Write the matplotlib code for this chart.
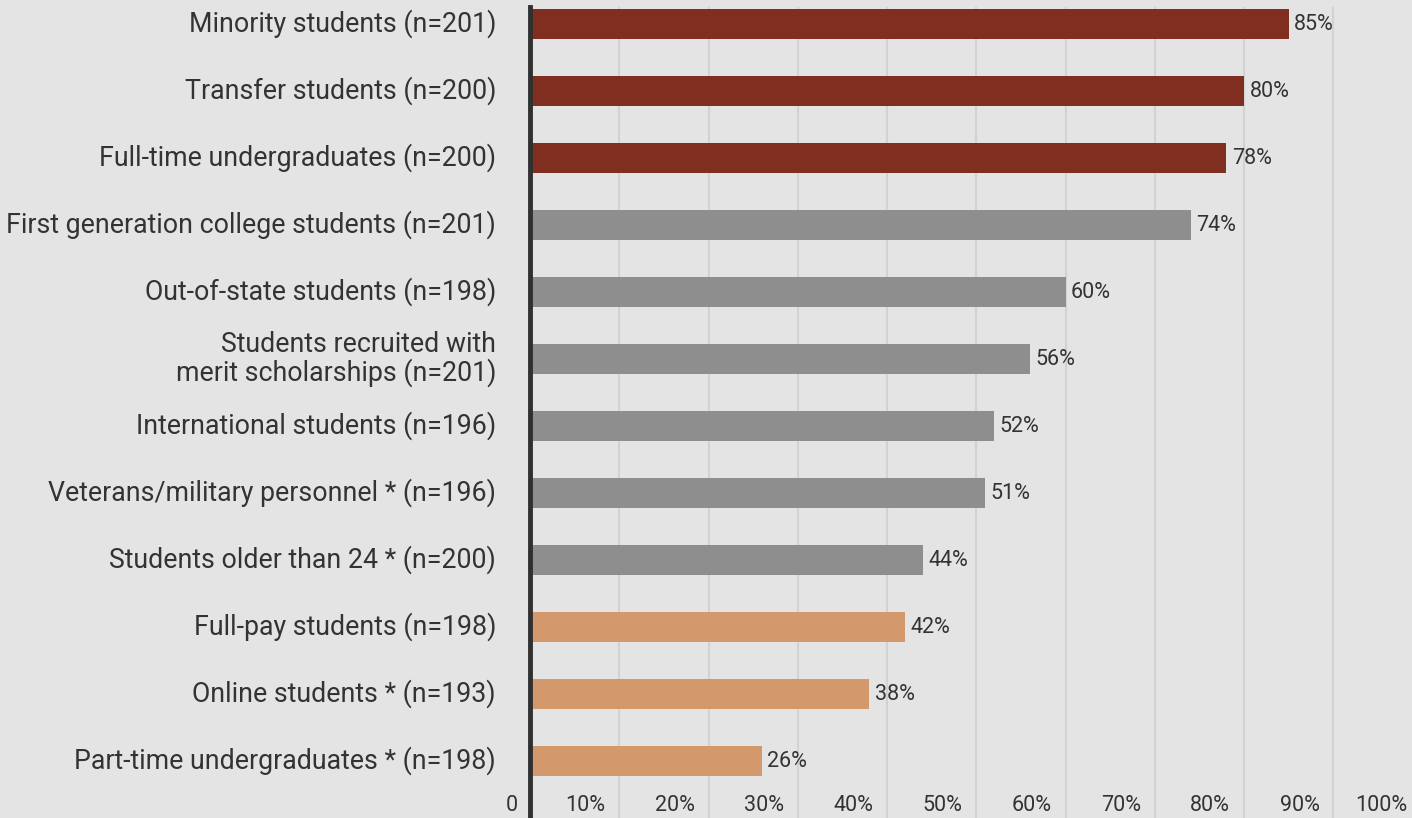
import matplotlib
matplotlib.use("Agg")
import matplotlib.pyplot as plt

# data
categories = [
    "Minority students (n=201)",
    "Transfer students (n=200)",
    "Full-time undergraduates (n=200)",
    "First generation college students (n=201)",
    "Out-of-state students (n=198)",
    "Students recruited with\nmerit scholarships (n=201)",
    "International students (n=196)",
    "Veterans/military personnel * (n=196)",
    "Students older than 24 * (n=200)",
    "Full-pay students (n=198)",
    "Online students * (n=193)",
    "Part-time undergraduates * (n=198)",
]
values = [85, 80, 78, 74, 60, 56, 52, 51, 44, 42, 38, 26]
groups = ["top", "top", "top", "mid", "mid", "mid", "mid", "mid", "mid", "low", "low", "low"]
tick_values = [0, 10, 20, 30, 40, 50, 60, 70, 80, 90, 100]
tick_labels = ["0", "10%", "20%", "30%", "40%", "50%", "60%", "70%", "80%", "90%", "100%"]

colors = {"top": "#7f2e20", "mid": "#8e8e8e", "low": "#d3986b"}
bg = "#e4e4e4"
txt = "#333333"

plt.rcParams['font.family'] = ['Roboto', 'DejaVu Sans']

fig = plt.figure(figsize=(14.12, 8.18), dpi=100, facecolor=bg)
ax = fig.add_axes([530 / 1412, 0, 1 - 530 / 1412, 1 - 7 / 818])
ax.set_facecolor(bg)

ypos = list(range(len(categories)))
ax.barh(ypos, values, height=0.45, color=[colors[g] for g in groups], zorder=3)

for y, v in zip(ypos, values):
    ax.text(v + 0.6, y, f"{v}%", va="center", ha="left", fontsize=15.5, color=txt, zorder=4)

# category labels left of the axis
for y, c in zip(ypos, categories):
    ax.text(-3.8, y, c, va="center", ha="right", fontsize=19.3, color=txt,
            linespacing=1.0, clip_on=False)

# gridlines
for t in tick_values[1:]:
    ax.axvline(t, color="#d2d2d2", lw=1.5, zorder=1)

ax.set_xlim(0, 98.8)
ax.set_ylim(11.85, -0.254)

# tick labels drawn inside the plot, shifted left of the gridlines like the original
label_row = 11.66
for t, lab in zip(tick_values, tick_labels):
    if t == 0:
        xp = -2.0
    elif t == 100:
        xp = 95.3
    else:
        xp = t - 3.8
    ax.text(xp, label_row, lab, ha="center", va="center", fontsize=15.5, color=txt,
            clip_on=False, zorder=4)

ax.set_xticks([])
ax.set_yticks([])
for s in ["top", "right", "bottom"]:
    ax.spines[s].set_visible(False)
ax.spines["left"].set_color("#303030")
ax.spines["left"].set_linewidth(3.5)
ax.spines["left"].set_zorder(5)

fig.savefig("out.png", dpi=100, facecolor=bg)
